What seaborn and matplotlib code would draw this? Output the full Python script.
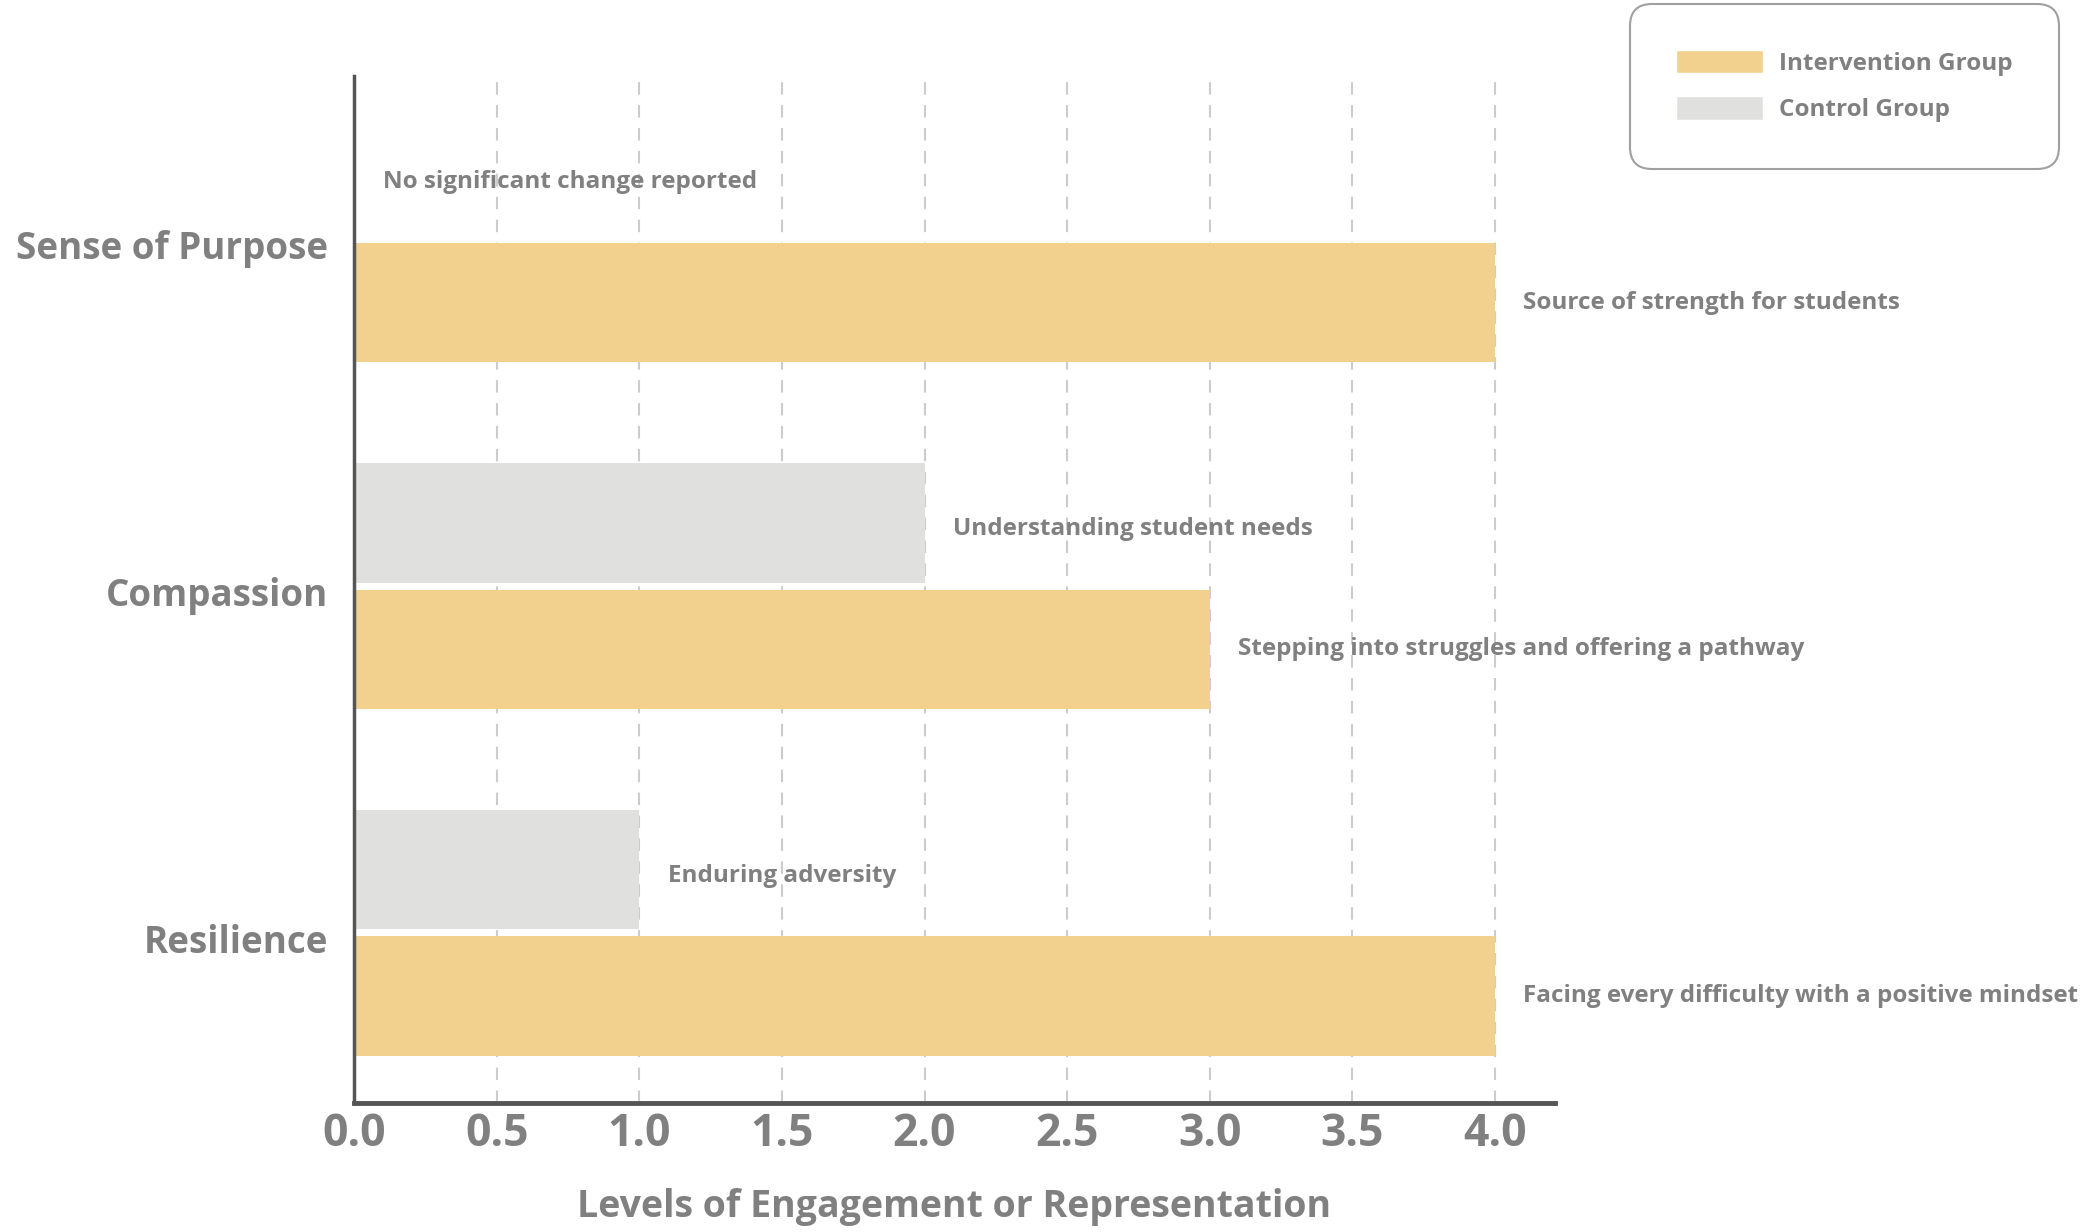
import pandas as pd
import seaborn as sns
import matplotlib.pyplot as plt
import matplotlib.transforms as mtransforms
from matplotlib.patches import Patch

categories = ["Sense of Purpose", "Compassion", "Resilience"]
intervention = [4.0, 3.0, 4.0]
control = [0.0, 2.0, 1.0]
intervention_notes = [
    "Source of strength for students",
    "Stepping into struggles and offering a pathway",
    "Facing every difficulty with a positive mindset",
]
control_notes = [
    "No significant change reported",
    "Understanding student needs",
    "Enduring adversity",
]

groups = ["Control Group", "Intervention Group"]
colors = {"Intervention Group": "#F2D08E", "Control Group": "#E0E0DE"}
text_gray = "#808080"

df = pd.DataFrame({
    "category": categories * 2,
    "value": control + intervention,
    "group": ["Control Group"] * 3 + ["Intervention Group"] * 3,
})

sns.set_style("white")
plt.rcParams["font.family"] = ["Open Sans", "DejaVu Sans"]

fig = plt.figure(figsize=(20.84, 12.32), dpi=100)
ax = fig.add_axes([0.170, 0.105, 0.576, 0.833])

sns.barplot(
    data=df, y="category", x="value", hue="group", hue_order=groups,
    order=categories, palette=colors, orient="h", width=0.73, gap=0.055,
    saturation=1, linewidth=0, legend=False, ax=ax,
)

ax.set_xlim(0, 4.21)
ax.set_ylim(2.49, -0.47)
ax.set_xticks([0, 0.5, 1.0, 1.5, 2.0, 2.5, 3.0, 3.5, 4.0])
ax.set_xticklabels([f"{t:.1f}" for t in ax.get_xticks()])

ax.set_axisbelow(True)
ax.xaxis.grid(True, linestyle=(0, (6, 5)), color="#cccccc", linewidth=1.5)
ax.yaxis.grid(False)

for side in ["top", "right"]:
    ax.spines[side].set_visible(False)
ax.spines["left"].set_color("#555555")
ax.spines["left"].set_linewidth(2.5)
ax.spines["bottom"].set_color("#555555")
ax.spines["bottom"].set_linewidth(3.5)

ax.tick_params(axis="both", length=0)
ax.tick_params(axis="x", labelsize=32, pad=7, labelcolor=text_gray)
ax.tick_params(axis="y", labelsize=26.5, pad=19, labelcolor=text_gray)
for lbl in ax.get_xticklabels() + ax.get_yticklabels():
    lbl.set_fontweight("bold")
# nudge category labels slightly down
shift = mtransforms.ScaledTranslation(0, -4 / 72, fig.dpi_scale_trans)
for lbl in ax.get_yticklabels():
    lbl.set_transform(lbl.get_transform() + shift)

ax.set_ylabel("")
ax.set_xlabel("Levels of Engagement or Representation", fontsize=27,
              fontweight="bold", color=text_gray, labelpad=22)

# notes next to bars
for i, cat in enumerate(categories):
    ax.text(control[i] + 0.1, i - 0.165, control_notes[i], fontsize=17.5,
            fontweight="bold", color=text_gray, va="center", ha="left")
    ax.text(intervention[i] + 0.1, i + 0.183, intervention_notes[i], fontsize=17.5,
            fontweight="bold", color=text_gray, va="center", ha="left")

handles = [Patch(facecolor=colors["Intervention Group"], label="Intervention Group"),
           Patch(facecolor=colors["Control Group"], label="Control Group")]
leg = fig.legend(
    handles=handles, loc="upper right", bbox_to_anchor=(0.988, 0.997),
    frameon=True, fancybox=True, handlelength=3.6, handleheight=1.1,
    handletextpad=0.65, labelspacing=0.85, borderpad=1.9, borderaxespad=0,
    labelcolor=text_gray, prop={"weight": "bold", "size": 17.5},
)
leg.get_frame().set_edgecolor("#888888")
leg.get_frame().set_linewidth(1.5)
leg.get_frame().set_boxstyle("round,pad=0,rounding_size=0.9")

fig.savefig("out.png", dpi=100)
